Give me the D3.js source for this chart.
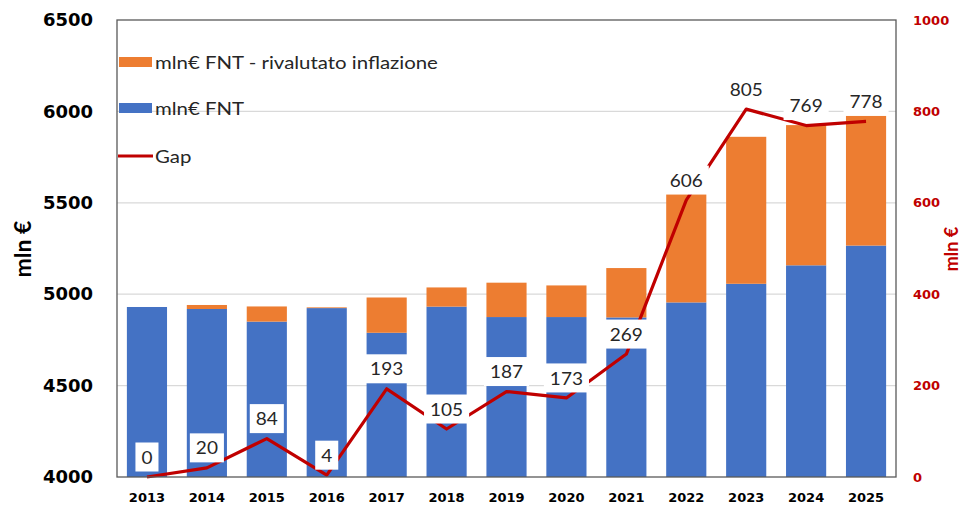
<!DOCTYPE html>
<html>
<head>
<meta charset="utf-8">
<script src="https://cdn.jsdelivr.net/npm/d3@7/dist/d3.min.js"></script>
<style>
  html, body { margin: 0; padding: 0; background: #ffffff; }
  svg { display: block; }
</style>
</head>
<body>
<svg id="chart" width="976" height="507"></svg>
<script>
// ---- data ----
const years = ["2013","2014","2015","2016","2017","2018","2019","2020","2021","2022","2023","2024","2025"];
const fnt = [4930, 4919, 4850, 4924, 4789, 4932, 4875, 4875, 4873, 4955, 5057, 5158, 5266];
const fntRival = [4930, 4941, 4933, 4928, 4982, 5037, 5063, 5048, 5143, 5551, 5861, 5925, 5980];
const gap = [0, 20, 84, 4, 193, 105, 187, 173, 269, 606, 805, 769, 778];
const leftTicks = [4000, 4500, 5000, 5500, 6000, 6500];
const rightTicks = [0, 200, 400, 600, 800, 1000];
const legendLabels = ["mln€ FNT - rivalutato inflazione", "mln€ FNT", "Gap"];
const axisTitle = "mln €";

// ---- layout ----
const W = 976, H = 507;
const plot = { left: 117, right: 896, top: 20, bottom: 477 };
const BLUE = "#4472C4", ORANGE = "#ED7D31", RED = "#C00000", TXT = "#262626";
const STRETCH = 1.12; // horizontal stretch of text, as in the reference

const svg = d3.select("#chart");

const x = d3.scaleBand().domain(years).range([plot.left, plot.right]).paddingInner(0.33).paddingOuter(0.165);
const yL = d3.scaleLinear().domain([4000, 6500]).range([plot.bottom, plot.top]);
const yR = d3.scaleLinear().domain([0, 1000]).range([plot.bottom, plot.top]);

// gridlines
svg.append("g").selectAll("line").data(leftTicks.filter(v => v > 4000 && v < 6500)).join("line")
  .attr("x1", plot.left).attr("x2", plot.right)
  .attr("y1", d => yL(d)).attr("y2", d => yL(d))
  .attr("stroke", "#D9D9D9").attr("stroke-width", 1.2);

// bars: blue base
svg.append("g").selectAll("rect").data(years).join("rect")
  .attr("x", d => x(d)).attr("width", x.bandwidth())
  .attr("y", (d, i) => yL(fnt[i]))
  .attr("height", (d, i) => yL(4000) - yL(fnt[i]))
  .attr("fill", BLUE);

// bars: orange increment
svg.append("g").selectAll("rect").data(years).join("rect")
  .attr("x", d => x(d)).attr("width", x.bandwidth())
  .attr("y", (d, i) => yL(fntRival[i]))
  .attr("height", (d, i) => Math.max(0, yL(fnt[i]) - yL(fntRival[i])))
  .attr("fill", ORANGE);

// gap line
const cx = d => x(d) + x.bandwidth() / 2;
const line = d3.line().x((d, i) => cx(years[i])).y(d => yR(d));
svg.append("path").datum(gap)
  .attr("d", line).attr("fill", "none")
  .attr("stroke", RED).attr("stroke-width", 3.2)
  .attr("stroke-linejoin", "round");

// data labels with white boxes
const lblFont = "17px Lato, 'Open Sans', sans-serif";
const lblG = svg.append("g");
years.forEach((yr, i) => {
  const px = cx(yr), py = yR(gap[i]) - 20;
  const g = lblG.append("g");
  const t = g.append("text")
    .attr("transform", `translate(${px},${py}) scale(${STRETCH},1)`)
    .attr("text-anchor", "middle").attr("dominant-baseline", "central")
    .style("font", lblFont).attr("fill", TXT)
    .text(gap[i]);
  const bb = t.node().getBBox();
  const bw = bb.width * STRETCH + 12, bh = 29;
  g.insert("rect", "text")
    .attr("x", px - bw / 2).attr("y", py - bh / 2)
    .attr("width", bw).attr("height", bh)
    .attr("fill", "#ffffff");
});

// plot border
svg.append("rect")
  .attr("x", plot.left).attr("y", plot.top)
  .attr("width", plot.right - plot.left).attr("height", plot.bottom - plot.top)
  .attr("fill", "none").attr("stroke", "#595959").attr("stroke-width", 1.3);

// left axis
const axL = svg.append("g").attr("transform", `translate(${plot.left},0)`)
  .call(d3.axisLeft(yL).tickValues(leftTicks).tickSize(0).tickPadding(24).tickFormat(d3.format("d")));
axL.select(".domain").remove();
axL.selectAll("text").style("font", "bold 18px 'DejaVu Sans', sans-serif").attr("fill", "#000");

// right axis
const axR = svg.append("g").attr("transform", `translate(${plot.right},0)`)
  .call(d3.axisRight(yR).tickValues(rightTicks).tickSize(0).tickPadding(17).tickFormat(d3.format("d")));
axR.select(".domain").remove();
axR.selectAll("text").style("font", "bold 13px 'DejaVu Sans', sans-serif").attr("fill", RED);

// bottom axis
const axB = svg.append("g").attr("transform", `translate(0,${plot.bottom})`)
  .call(d3.axisBottom(x).tickSize(0).tickPadding(16));
axB.select(".domain").remove();
axB.selectAll("text").style("font", "bold 13px 'DejaVu Sans', sans-serif").attr("fill", "#000");

// axis titles
svg.append("text")
  .attr("transform", "translate(22,249) rotate(-90)")
  .attr("text-anchor", "middle").attr("dominant-baseline", "central")
  .style("font", "bold 23px Lato, sans-serif").attr("fill", "#000")
  .text(axisTitle);
svg.append("text")
  .attr("transform", "translate(951,249) rotate(-90)")
  .attr("text-anchor", "middle").attr("dominant-baseline", "central")
  .style("font", "bold 18px Lato, sans-serif").attr("fill", RED)
  .text(axisTitle);

// legend
const leg = svg.append("g");
const legY = [62, 108, 156];
leg.append("rect").attr("x", 119).attr("y", legY[0] - 5).attr("width", 33).attr("height", 10).attr("fill", ORANGE);
leg.append("rect").attr("x", 119).attr("y", legY[1] - 5).attr("width", 33).attr("height", 10).attr("fill", BLUE);
leg.append("line").attr("x1", 118).attr("x2", 153).attr("y1", legY[2]).attr("y2", legY[2])
  .attr("stroke", RED).attr("stroke-width", 3.2);
legendLabels.forEach((l, i) => {
  leg.append("text")
    .attr("transform", `translate(155,${legY[i]}) scale(1.2,1)`)
    .attr("dominant-baseline", "central")
    .style("font", "17px Lato, 'Open Sans', sans-serif").attr("fill", TXT)
    .text(l);
});
</script>
</body>
</html>
